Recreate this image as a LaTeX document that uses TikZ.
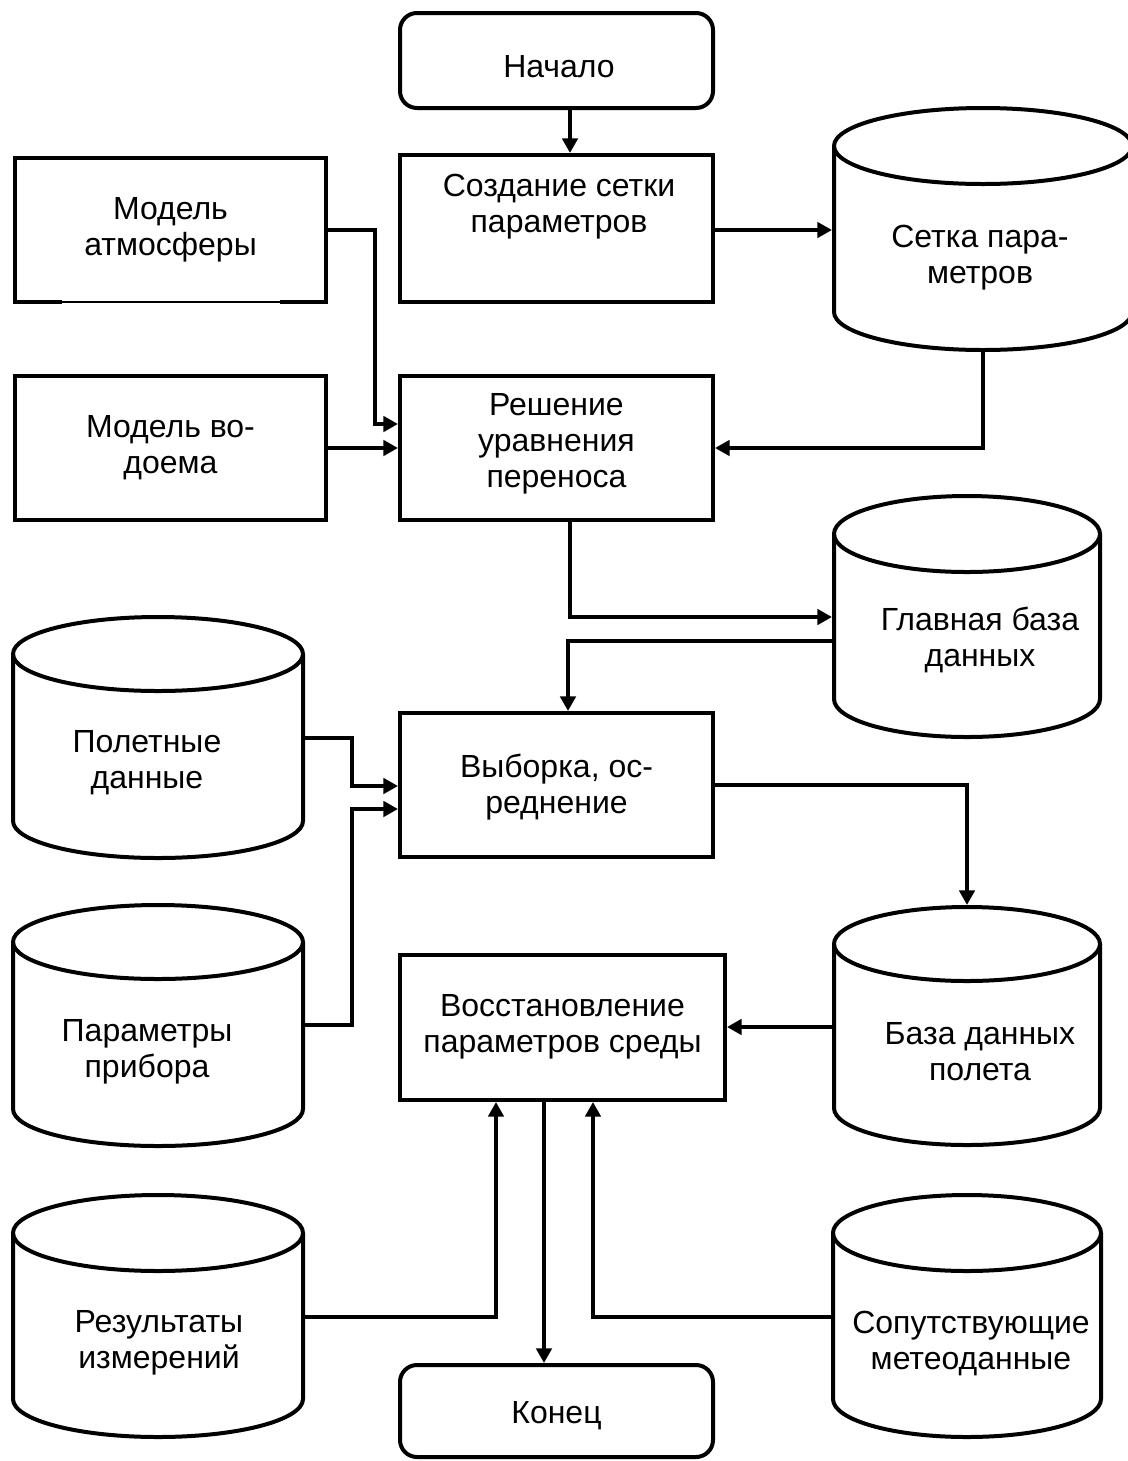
\documentclass[tikz,border=0pt]{standalone}
\usepackage{fontspec}
\setmainfont{Liberation Sans}
\usetikzlibrary{arrows.meta}
\tikzset{
  ln/.style={line width=3pt, black},
  arr/.style={ln, -{Triangle[length=11pt,width=11.5pt]}},
  txt/.style={align=center, font=\fontsize{24}{27}\selectfont, inner sep=0pt},
  boxnode/.style={ln, draw, rectangle, inner sep=0pt, align=center, font=\fontsize{24}{27}\selectfont},
  body/.style={rectangle, draw=none, inner sep=0pt, outer sep=1.5pt},
}
\newcommand\dbcyl[6]{%
  \node[body, minimum width={2*#5*0.75pt}, minimum height={(#4-#3)*0.75pt}] (#1) at (#2,{(#3+#4)/2}) {};
  \draw[ln] (#2,#3+#6) ellipse [x radius=#5, y radius=#6];
  \draw[ln] (#2-#5,#3+#6) -- (#2-#5,#4-#6)
     .. controls (#2-#5,#4-0.4477*#6) and (#2-0.5523*#5,#4) .. (#2,#4)
     .. controls (#2+0.5523*#5,#4) and (#2+#5,#4-0.4477*#6) .. (#2+#5,#4-#6)
     -- (#2+#5,#3+#6);
}
\begin{document}
\begin{tikzpicture}[x=0.75pt, y=-0.75pt]
\useasboundingbox (0,0) rectangle (1128,1461);

% rectangular boxes
\node[boxnode, rounded corners=12.75pt, minimum width=234.75pt, minimum height=71.25pt] (start) at (556.5,60.5) {};
\node[txt] (starttxt) at (559,67) {Начало};
\node[boxnode, minimum width=234.75pt, minimum height=110.25pt] (create) at (556.5,228.5) {};
\node[txt] (createtxt) at (559,207) {Создание сетки\\параметров};
\node[boxnode, minimum width=233.25pt, minimum height=108pt] (atm) at (170.5,230) {Модель\\атмосферы};
\draw[line width=3.2pt, white] (62,302) -- (280,302);
\draw[line width=2pt, black] (60,302) -- (282,302);
\node[boxnode, minimum width=233.25pt, minimum height=108pt] (vod) at (170.5,448) {Модель во-\\доема};
\node[boxnode, minimum width=234.75pt, minimum height=108pt] (resh) at (556.5,448) {};
\node[txt] (reshtxt) at (556.5,444) {Решение\\уравнения\\переноса};
\node[boxnode, minimum width=234.75pt, minimum height=108pt] (vyb) at (556.5,785) {};
\node[txt] (vybtxt) at (556.5,787) {Выборка, ос-\\реднение};
\node[boxnode, minimum width=243.75pt, minimum height=108.75pt] (rest) at (562.5,1027.5) {};
\node[txt] (resttxt) at (562.5,1027) {Восстановление\\параметров среды};
\node[boxnode, rounded corners=12.75pt, minimum width=234.75pt, minimum height=69pt] (end) at (556.5,1411) {};
\node[txt] (endtxt) at (556.5,1416) {Конец};

% cylinders
\dbcyl{setka}{983}{108}{350}{149}{38}
\node[txt] (setkatxt) at (980,258) {Сетка пара-\\метров};
\dbcyl{glav}{967}{496}{737}{133}{38}
\node[txt] (glavtxt) at (980,640) {Главная база\\данных};
\dbcyl{polet}{158}{617}{858}{145}{37}
\node[txt] (polettxt) at (147,763) {Полетные\\данные};
\dbcyl{param}{158}{905}{1146}{145}{37}
\node[txt] (paramtxt) at (147,1052) {Параметры\\прибора};
\dbcyl{baza}{967}{907}{1145}{133}{37}
\node[txt] (bazatxt) at (980,1052) {База данных\\полета};
\dbcyl{res}{158}{1195}{1437}{145}{38}
\node[txt] (restxt) at (159,1343) {Результаты\\измерений};
\dbcyl{sop}{967}{1195}{1437}{134}{38}
\node[txt] (soptxt) at (971,1343) {Сопутствующие\\метеоданные};

% connectors
\draw[arr] (start.south -| 570,0) -- (create.north -| 570,0);
\draw[arr] (create.east |- 0,230) -- (setka.west |- 0,230);
\draw[arr] (atm.east |- 0,230) -| (375,424) -- (resh.west |- 0,424);
\draw[arr] (vod.east |- 0,448) -- (resh.west |- 0,448);
\draw[arr] (setka.south) |- (resh.east |- 0,448);
\draw[arr] (resh.south -| 570,0) |- (glav.west |- 0,617);
\draw[arr] (glav.west |- 0,641) -| (vyb.north -| 568,0);
\draw[arr] (polet.east |- 0,738) -| (352,786) -- (vyb.west |- 0,786);
\draw[arr] (param.east |- 0,1025) -| (352,809) -- (vyb.west |- 0,809);
\draw[arr] (vyb.east |- 0,785) -| (baza.north);
\draw[arr] (baza.west |- 0,1027) -- (rest.east |- 0,1027);
\draw[arr] (res.east |- 0,1317) -| (rest.south -| 496,0);
\draw[arr] (sop.west |- 0,1317) -| (rest.south -| 593,0);
\draw[arr] (rest.south -| 544,0) -- (end.north -| 544,0);
\end{tikzpicture}
\end{document}
